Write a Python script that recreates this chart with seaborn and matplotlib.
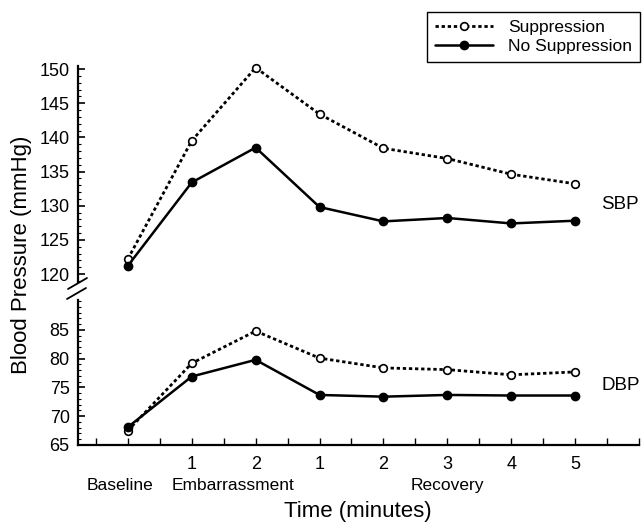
import numpy as np
import pandas as pd
import matplotlib
matplotlib.use("Agg")
import matplotlib.pyplot as plt
from matplotlib.ticker import MultipleLocator, FixedLocator
from matplotlib.lines import Line2D
import seaborn as sns

# 数据
time_points = ["Baseline", "Emb 1", "Emb 2", "Rec 1", "Rec 2", "Rec 3", "Rec 4", "Rec 5"]
tick_labels = ["", "1", "2", "1", "2", "3", "4", "5", ""]
phase_labels = ["Baseline", "Embarrassment", "Recovery"]
sbp_ticks = [120, 125, 130, 135, 140, 145, 150]
dbp_ticks = [65, 70, 75, 80, 85]
sbp_supp = [122.2, 139.5, 150.2, 143.4, 138.4, 136.9, 134.6, 133.2]
sbp_nosupp = [121.2, 133.4, 138.5, 129.8, 127.7, 128.2, 127.4, 127.8]
dbp_supp = [67.5, 79.2, 84.8, 80.1, 78.4, 78.1, 77.2, 77.7]
dbp_nosupp = [68.1, 76.9, 79.8, 73.7, 73.4, 73.7, 73.6, 73.6]

x_pos = np.arange(len(time_points))
df = pd.DataFrame({
    "x": np.tile(x_pos, 4),
    "bp": sbp_supp + sbp_nosupp + dbp_supp + dbp_nosupp,
    "cond": (["Suppression"] * 8 + ["No Suppression"] * 8) * 2,
    "measure": ["SBP"] * 16 + ["DBP"] * 16,
})

sns.set_style("ticks")
plt.rcParams["font.family"] = ["Liberation Sans", "DejaVu Sans"]
plt.rcParams.update({"text.color": "black", "axes.labelcolor": "black",
                     "xtick.color": "black", "ytick.color": "black",
                     "axes.edgecolor": "black"})

W, H = 642, 522
fig = plt.figure(figsize=(W / 100, H / 100), dpi=100)

def fbox(l, t, r, b):
    return [l / W, 1 - b / H, (r - l) / W, (b - t) / H]

ax_top = fig.add_axes(fbox(78, 65.6, 639, 282))
ax_bot = fig.add_axes(fbox(78, 300, 639, 445))

styles = {
    "Suppression": dict(linestyle=(0, (1.2, 1.0)), marker="o", markerfacecolor="white",
                        markeredgecolor="black", markersize=5.5, markeredgewidth=1.2, linewidth=2.0),
    "No Suppression": dict(linestyle="-", marker="o", markerfacecolor="black",
                           markeredgecolor="black", markersize=6, markeredgewidth=1.0, linewidth=1.8),
}

for ax, meas, yt in [(ax_top, "SBP", sbp_ticks), (ax_bot, "DBP", dbp_ticks)]:
    for cond in ["Suppression", "No Suppression"]:
        sub = df[(df.measure == meas) & (df.cond == cond)]
        sns.lineplot(data=sub, x="x", y="bp", ax=ax, color="black", label=cond,
                     clip_on=False, zorder=3, **styles[cond])
    ax.set_xlim(-0.78, 8.0)
    ax.set_xlabel("")
    ax.set_ylabel("")
    ax.get_legend().remove()
    ax.spines["right"].set_visible(False)
    ax.spines["top"].set_visible(False)
    ax.spines["left"].set_linewidth(1.6)
    ax.yaxis.set_major_locator(FixedLocator(yt))
    ax.yaxis.set_minor_locator(MultipleLocator(1))
    ax.tick_params(axis="y", which="major", direction="in", length=5, width=1.2,
                   labelsize=13, pad=6)
    ax.tick_params(axis="y", which="minor", direction="in", length=2.5, width=0.8)

ax_top.set_ylim(118.83, 150.5)
ax_bot.set_ylim(65, 90.2)

ax_top.spines["bottom"].set_visible(False)
ax_top.tick_params(axis="x", which="both", bottom=False, labelbottom=False)

ax_bot.spines["bottom"].set_linewidth(1.6)
ax_bot.xaxis.set_major_locator(FixedLocator(np.arange(0, 9)))
ax_bot.xaxis.set_minor_locator(FixedLocator(np.arange(-0.5, 8, 1.0)))
ax_bot.set_xticklabels(tick_labels)
ax_bot.tick_params(axis="x", which="both", direction="in", length=5, width=1.0,
                   labelsize=13, pad=8)

# 阶段标签
for lab, xc in zip(phase_labels, [-0.12, 1.65, 5.0]):
    ax_bot.text(xc, -0.276, lab, transform=ax_bot.get_xaxis_transform(),
                ha="center", va="center", fontsize=12.5)

ax_top.text(7.41, 130.1, "SBP", ha="left", va="center", fontsize=13.5)
ax_bot.text(7.41, 75.4, "DBP", ha="left", va="center", fontsize=13.5)

fig.text(358 / W, 1 - 512 / H, "Time (minutes)", ha="center", va="center", fontsize=16)
fig.text(22 / W, 1 - 255 / H, "Blood Pressure (mmHg)", ha="center", va="center",
         rotation=90, fontsize=16)

# 断轴标记
for (x0, y0, x1, y1) in [(68, 289, 87, 278), (67, 299, 86, 288)]:
    fig.add_artist(Line2D([x0 / W, x1 / W], [1 - y0 / H, 1 - y1 / H],
                          transform=fig.transFigure, color="black", lw=1.3))

handles, labels = ax_top.get_legend_handles_labels()
leg = fig.legend(handles, labels, loc="upper right", bbox_to_anchor=(640 / W, 1 - 12 / H),
                 bbox_transform=fig.transFigure, frameon=True, fancybox=False,
                 edgecolor="black", framealpha=1, borderaxespad=0, handlelength=3.3,
                 handletextpad=0.9, fontsize=12.5, labelspacing=0.25, borderpad=0.45)
leg.get_frame().set_linewidth(1.0)

fig.savefig("out.png", dpi=100)
